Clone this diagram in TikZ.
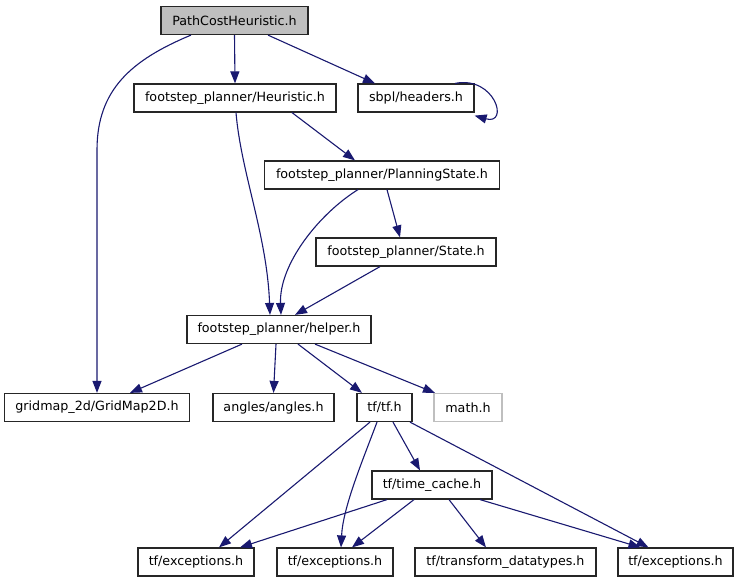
\documentclass[tikz,border=0pt]{standalone}
\usepackage{fontspec}
\setmainfont{DejaVu Sans}
\usetikzlibrary{arrows.meta}
\definecolor{edgeblue}{HTML}{191970}
\definecolor{rootgrey}{HTML}{BFBFBF}
\tikzset{
  box/.style={draw=black!85, line width=1.2pt, rectangle, inner sep=0pt, minimum height=28pt, font=\fontsize{12.7}{15}\selectfont, text=black},
  rootbox/.style={box, fill=rootgrey},
  greybox/.style={box, draw=rootgrey},
  edge/.style={draw=edgeblue, line width=1.1pt, -{Triangle[length=12pt,width=9pt]}, edgeblue},
}
\begin{document}
\begin{tikzpicture}[x=1pt,y=-1pt]
\useasboundingbox (0,0) rectangle (739,581);
\node[rootbox, minimum width=147pt] (A) at (234.5,20.5) {PathCostHeuristic.h};
\node[box, minimum width=202pt] (B) at (235,98) {footstep\_planner/Heuristic.h};
\node[box, minimum width=116pt] (C) at (416,98) {sbpl/headers.h};
\node[box, minimum width=235pt] (D) at (382,175) {footstep\_planner/PlanningState.h};
\node[box, minimum width=180pt] (E) at (406,252) {footstep\_planner/State.h};
\node[box, minimum width=184pt] (F) at (279,329.5) {footstep\_planner/helper.h};
\node[box, minimum width=185pt] (G) at (97,407.5) {gridmap\_2d/GridMap2D.h};
\node[box, minimum width=121pt] (H) at (273.5,407.5) {angles/angles.h};
\node[box, minimum width=55pt] (I) at (384.5,407.5) {tf/tf.h};
\node[greybox, minimum width=68pt] (J) at (468,407.5) {math.h};
\node[box, minimum width=120pt] (K) at (432,485) {tf/time\_cache.h};
\node[box, minimum width=116pt] (L) at (196,562) {tf/exceptions.h};
\node[box, minimum width=116pt] (M) at (335,562) {tf/exceptions.h};
\node[box, minimum width=181pt] (N) at (505.5,562) {tf/transform\_datatypes.h};
\node[box, minimum width=115pt] (O) at (675.5,562) {tf/exceptions.h};

\draw[edge] ([xshift=-43.5pt]A.south) .. controls +(-60,25) and +(0,-60) .. (97,150) -- (G.north);
\draw[edge] (A.south) -- (B.north);
\draw[edge] ([xshift=33.5pt]A.south) -- ([xshift=-41pt]C.north);
\draw[edge] ([xshift=39pt]C.north) .. controls +(40,-8) and +(35,10) .. ([yshift=-3pt]C.south east);
\draw[edge] ([xshift=57pt]B.south) -- ([xshift=-27pt]D.north);
\draw[edge] ([xshift=1pt]B.south) .. controls +(5,60) and +(-3,-80) .. ([xshift=-9pt]F.north);
\draw[edge] ([xshift=-24pt]D.south) .. controls +(-40,25) and +(-2,-50) .. ([xshift=2pt]F.north);
\draw[edge] ([xshift=5pt]D.south) -- ([xshift=-6pt]E.north);
\draw[edge] ([xshift=-26pt]E.south) -- ([xshift=16pt]F.north);
\draw[edge] ([xshift=-37pt]F.south) -- ([xshift=33pt]G.north);
\draw[edge] ([xshift=-3pt]F.south) -- (H.north);
\draw[edge] ([xshift=19pt]F.south) -- ([xshift=-22.5pt]I.north);
\draw[edge] ([xshift=36pt]F.south) -- ([xshift=-33pt]J.north);
\draw[edge] ([xshift=-14.5pt]I.south) -- ([xshift=23pt]L.north);
\draw[edge] ([xshift=-7.5pt]I.south) .. controls +(-15,40) and +(2,-40) .. ([xshift=6pt]M.north);
\draw[edge] ([xshift=8.5pt]I.south) -- ([xshift=-12pt]K.north);
\draw[edge] ([xshift=25.5pt]I.south) -- ([xshift=-27pt]O.north);
\draw[edge] ([xshift=-45pt]K.south) -- ([xshift=44pt]L.north);
\draw[edge] ([xshift=-18pt]K.south) -- ([xshift=17pt]M.north);
\draw[edge] ([xshift=17pt]K.south) -- ([xshift=-19.5pt]N.north);
\draw[edge] ([xshift=48pt]K.south) -- ([xshift=-35pt]O.north);
\end{tikzpicture}
\end{document}
